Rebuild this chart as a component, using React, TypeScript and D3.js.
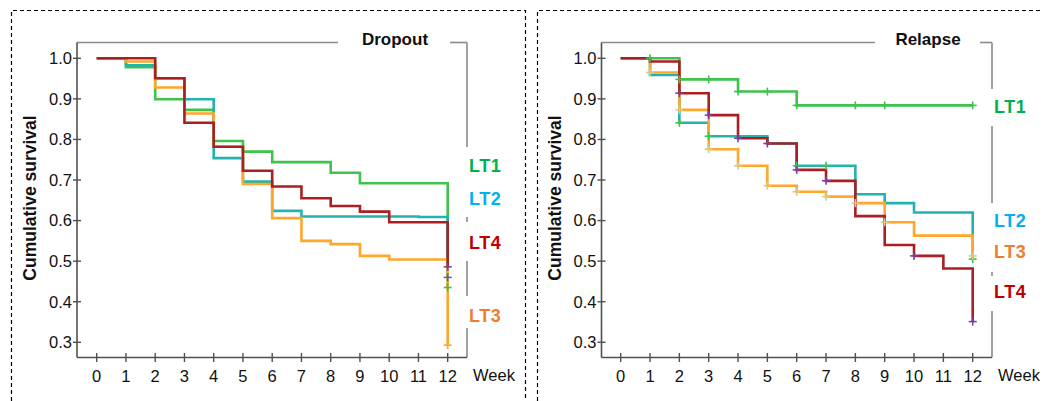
import React from 'react';
import * as d3 from 'd3';

const width = 1043;
const height = 401;

// weeks on the x axis and survival ticks on the y axis
const weekTicks = [0, 1, 2, 3, 4, 5, 6, 7, 8, 9, 10, 11, 12];
const survivalTicks = [0.3, 0.4, 0.5, 0.6, 0.7, 0.8, 0.9, 1.0];

const groups = ['LT1', 'LT2', 'LT3', 'LT4'];
const lineColors = ['#3ec34b', '#22b3b0', '#ffa62b', '#ab1e22'];
const labelColors = ['#00b050', '#00b0f0', '#ed7d31', '#c00000'];

// survival value holding from week k (index k), last entry = value after final drop at week 12
const dropoutLT1 = [1.0, 0.978, 0.899, 0.873, 0.796, 0.77, 0.744, 0.744, 0.718, 0.692, 0.692, 0.692, 0.435];
const dropoutLT2 = [1.0, 0.983, 0.951, 0.899, 0.754, 0.696, 0.624, 0.61, 0.61, 0.61, 0.61, 0.609, 0.46];
const dropoutLT3 = [1.0, 0.992, 0.928, 0.864, 0.782, 0.69, 0.606, 0.55, 0.542, 0.513, 0.504, 0.504, 0.293];
const dropoutLT4 = [1.0, 1.0, 0.951, 0.841, 0.782, 0.723, 0.684, 0.655, 0.636, 0.622, 0.596, 0.596, 0.486];
const dropoutCensorWeeks = [[12], [12], [12], [12]];
const dropoutCensorColors = ['#3fbf4a', '#4a68c8', '#ffa62b', '#7d3f9c'];

const relapseLT1 = [1.0, 1.0, 0.948, 0.948, 0.918, 0.918, 0.884, 0.884, 0.884, 0.884, 0.884, 0.884, 0.884];
const relapseLT2 = [1.0, 0.959, 0.841, 0.808, 0.808, 0.79, 0.735, 0.735, 0.665, 0.643, 0.62, 0.62, 0.505];
const relapseLT3 = [1.0, 0.965, 0.873, 0.776, 0.735, 0.686, 0.671, 0.659, 0.643, 0.596, 0.563, 0.563, 0.513];
const relapseLT4 = [1.0, 0.992, 0.914, 0.86, 0.803, 0.79, 0.725, 0.698, 0.611, 0.54, 0.513, 0.482, 0.351];
const relapseCensorWeeks = [
  [1, 2, 3, 4, 5, 6, 8, 9, 12],
  [2, 3, 6, 7, 12],
  [1, 2, 3, 4, 5, 6, 7, 8, 9, 12],
  [2, 3, 4, 5, 6, 7, 10, 12],
];
const relapseCensorColors = ['#3fc34b', '#3fc34b', '#d4ca8c', '#7d3f9c'];

const font = '"Liberation Sans", Arial, sans-serif';

type PanelProps = {
  title: string;
  axisX: number;
  x0: number;
  x12: number;
  frameRight: number;
  titleGap: [number, number];
  titleX: number;
  frameSegments: [number, number][];
  labelYs: number[];
  yLabelX: number;
  series: number[][];
  censorWeeks: number[][];
  censorColors: string[];
};

function Panel(p: PanelProps) {
  const x = d3.scaleLinear().domain([0, 12]).range([p.x0, p.x12]);
  const y = d3.scaleLinear().domain([0.3, 1.0]).range([342.3, 58.3]);
  const top = 42.5;
  const bottom = 357.5;
  const line = d3
    .line<number>()
    .x((_, i) => x(weekTicks[i]))
    .y((d) => y(d))
    .curve(d3.curveStepAfter);

  return (
    <g>
      {/* frame */}
      <g stroke="#8a8a8a" strokeWidth={1.6} fill="none">
        <line x1={p.axisX} x2={p.titleGap[0]} y1={top} y2={top} />
        <line x1={p.titleGap[1]} x2={p.frameRight} y1={top} y2={top} />
        {p.frameSegments.map((s, i) => (
          <line key={i} x1={p.frameRight} x2={p.frameRight} y1={s[0]} y2={s[1]} />
        ))}
      </g>
      <line x1={p.axisX} x2={p.frameRight} y1={bottom} y2={bottom} stroke="#505050" strokeWidth={1.6} />
      <line x1={p.axisX} x2={p.axisX} y1={top} y2={bottom} stroke="#505050" strokeWidth={1.6} />
      <text x={p.titleX} y={45} textAnchor="middle" fontFamily={font} fontWeight="bold" fontSize={17} fill="#111">
        {p.title}
      </text>

      {/* y axis */}
      {survivalTicks.map((t) => (
        <g key={t}>
          <line x1={p.axisX - 4} x2={p.axisX + 4} y1={y(t)} y2={y(t)} stroke="#505050" strokeWidth={1.4} />
          <text x={p.axisX - 5} y={y(t) + 5.8} textAnchor="end" fontFamily={font} fontSize={16.5} fill="#111">
            {d3.format('.1f')(t)}
          </text>
        </g>
      ))}
      <text
        transform={`translate(${p.yLabelX},198) rotate(-90)`}
        textAnchor="middle"
        fontFamily={font}
        fontWeight="bold"
        fontSize={17.5}
        fill="#111"
      >
        Cumulative survival
      </text>

      {/* x axis */}
      {weekTicks.map((t) => (
        <g key={t}>
          <line x1={x(t)} x2={x(t)} y1={bottom - 4.5} y2={bottom + 4.5} stroke="#505050" strokeWidth={1.4} />
          <text x={x(t)} y={381.5} textAnchor="middle" fontFamily={font} fontSize={16.5} fill="#111">
            {t}
          </text>
        </g>
      ))}
      <text x={p.frameRight + 6} y={381} fontFamily={font} fontSize={16.5} fill="#111">
        Week
      </text>

      {/* survival curves */}
      {p.series.map((s, i) => (
        <path key={i} d={line(s) || ''} fill="none" stroke={lineColors[i]} strokeWidth={2.6} />
      ))}

      {/* censor marks */}
      {p.censorWeeks.map((ws, i) =>
        ws.map((w) => (
          <g key={`${i}-${w}`} stroke={p.censorColors[i]} strokeWidth={1.6}>
            <line x1={x(w) - 4} x2={x(w) + 4} y1={y(p.series[i][w])} y2={y(p.series[i][w])} />
            <line x1={x(w)} x2={x(w)} y1={y(p.series[i][w]) - 4} y2={y(p.series[i][w]) + 4} />
          </g>
        ))
      )}

      {/* group labels */}
      {groups.map((g, i) => (
        <text
          key={g}
          x={p.frameRight + 2}
          y={p.labelYs[i]}
          fontFamily={font}
          fontWeight="bold"
          fontSize={18}
          letterSpacing={0.5}
          fill={labelColors[i]}
        >
          {g}
        </text>
      ))}
    </g>
  );
}

export default function App() {
  return (
    <svg
      width={width}
      height={height}
      style={{ position: 'absolute', left: 0, top: 0, background: '#fff' }}
    >
      <rect x={0} y={0} width={width} height={height} fill="#fff" />
      {/* dashed panel borders */}
      <g stroke="#000" strokeWidth={1.2} strokeDasharray="4,3" fill="none">
        <path d={`M11.5,${height} V10.5 H525.5 V${height}`} />
        <path d={`M537.5,${height} V10.5 H1043`} />
      </g>
      <Panel
        title="Dropout"
        axisX={77}
        x0={96.7}
        x12={447.7}
        frameRight={467}
        titleGap={[338, 450]}
        titleX={395}
        frameSegments={[[42.5, 147], [217, 222], [261, 296], [328, 357.5]]}
        labelYs={[171.5, 205, 321.5, 248.5]}
        yLabelX={35.5}
        series={[dropoutLT1, dropoutLT2, dropoutLT3, dropoutLT4]}
        censorWeeks={dropoutCensorWeeks}
        censorColors={dropoutCensorColors}
      />
      <Panel
        title="Relapse"
        axisX={601.5}
        x0={620.7}
        x12={972.7}
        frameRight={992}
        titleGap={[875, 980]}
        titleX={928}
        frameSegments={[[42.5, 89], [126, 203], [272, 276], [311, 357.5]]}
        labelYs={[113, 226.5, 258, 298]}
        yLabelX={561}
        series={[relapseLT1, relapseLT2, relapseLT3, relapseLT4]}
        censorWeeks={relapseCensorWeeks}
        censorColors={relapseCensorColors}
      />
    </svg>
  );
}
